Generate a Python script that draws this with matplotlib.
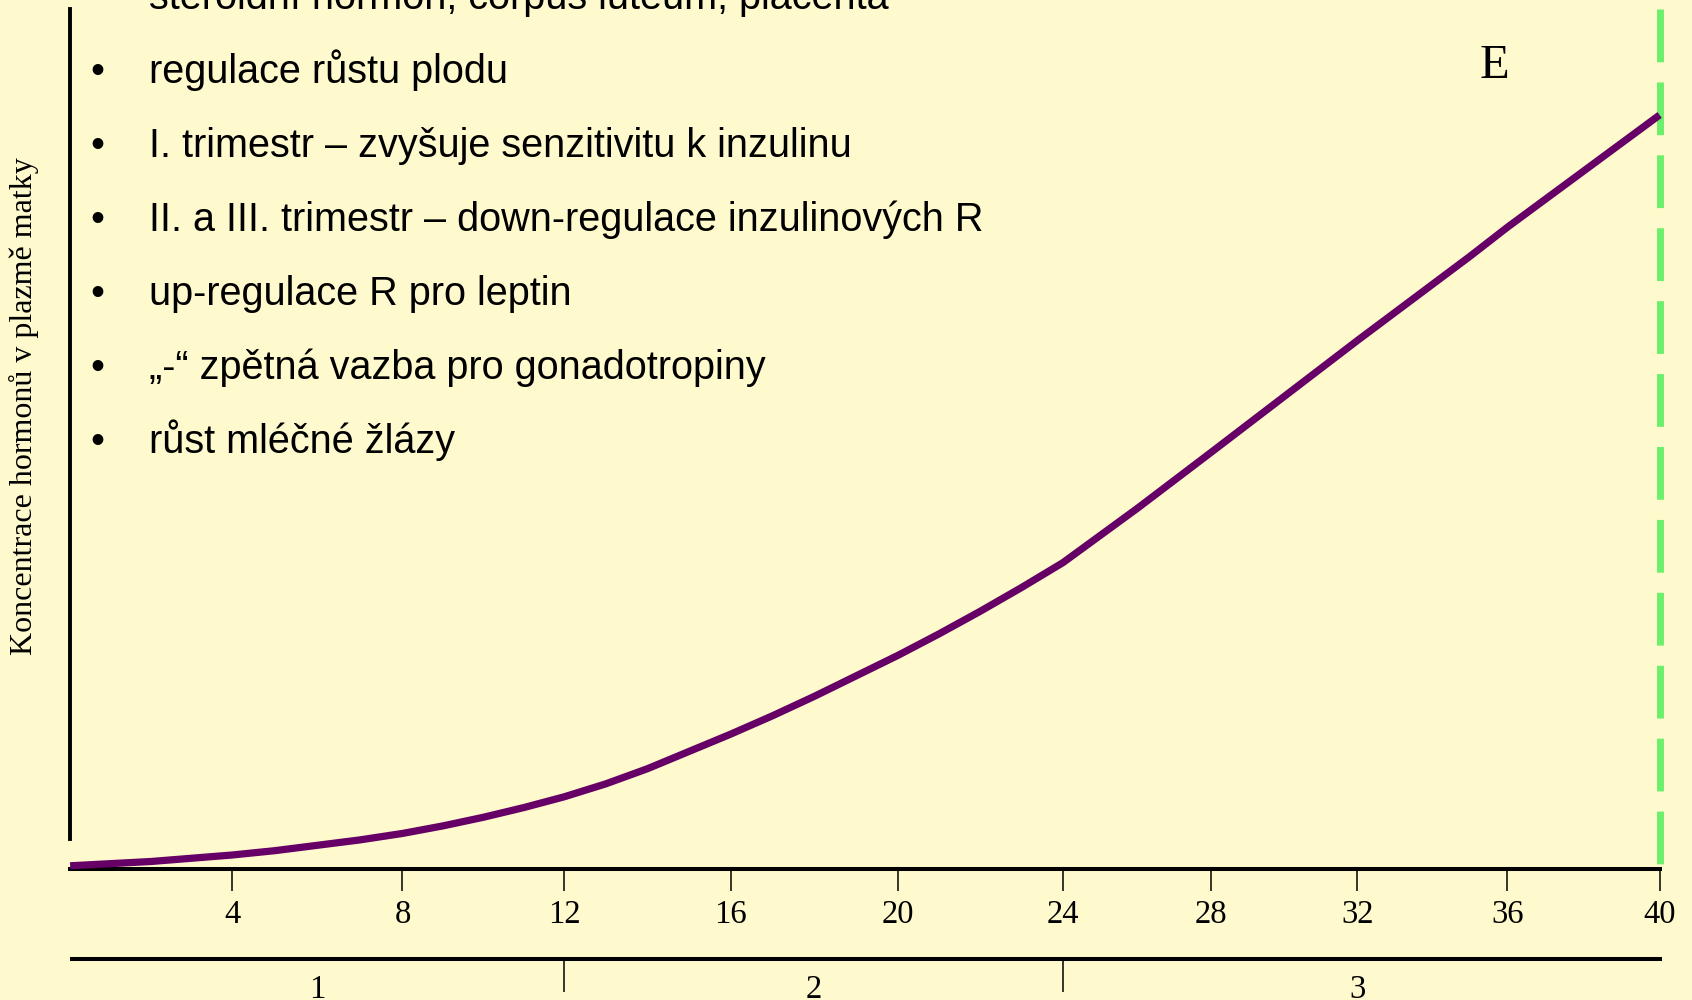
import numpy as np
import matplotlib
matplotlib.use("Agg")
import matplotlib.pyplot as plt

# week -> horizontal position on the slide (ticks are not evenly spaced)
tick_weeks = [0, 4, 8, 12, 16, 20, 24, 28, 32, 36, 40]
tick_pos = [65, 215, 373, 523, 677, 832, 985, 1122, 1258, 1397, 1538]

# hormone concentration curve (arbitrary units)
weeks = list(range(0, 41))
conc = [3, 5, 7, 10, 13, 17, 22, 27, 33, 40, 48, 57, 67, 79, 93, 109, 125, 142, 160, 179,
        198, 218, 239, 261, 284, 309, 334, 360, 386, 412, 438, 464, 490, 516, 542, 568,
        595, 621, 647, 673, 699]

trimesters = ["1", "2", "3"]
trimester_bounds = [0, 12, 24, 40]
trimester_mid = [6, 18, 32]

bullets = [
    "steroidní hormon, corpus luteum, placenta",
    "regulace růstu plodu",
    "I. trimestr – zvyšuje senzitivitu k inzulinu",
    "II. a III. trimestr – down-regulace inzulinových R",
    "up-regulace R pro leptin",
    "„-“ zpětná vazba pro gonadotropiny",
    "růst mléčné žlázy",
]
ylabel = "Koncentrace hormonů v plazmě matky"
curve_label = "E"

W, H = 1692, 1000
bg = "#fffacd"
serif = "Liberation Serif"
sans = "Liberation Sans"


def fwd(w):
    w = np.asarray(w, float)
    p = np.interp(w, tick_weeks, tick_pos)
    lo = (tick_pos[1] - tick_pos[0]) / 4.0
    hi = (tick_pos[-1] - tick_pos[-2]) / 4.0
    p = np.where(w < 0, tick_pos[0] + w * lo, p)
    p = np.where(w > 40, tick_pos[-1] + (w - 40) * hi, p)
    return p


def inv(p):
    p = np.asarray(p, float)
    w = np.interp(p, tick_pos, tick_weeks)
    lo = (tick_pos[1] - tick_pos[0]) / 4.0
    hi = (tick_pos[-1] - tick_pos[-2]) / 4.0
    w = np.where(p < tick_pos[0], (p - tick_pos[0]) / lo, w)
    w = np.where(p > tick_pos[-1], 40 + (p - tick_pos[-1]) / hi, w)
    return w


fig = plt.figure(figsize=(W / 100, H / 100), dpi=100, facecolor=bg)
ax = fig.add_axes([0, 0, 1, 1], facecolor=bg)
ax.set_xscale("function", functions=(fwd, inv))
ax.set_xlim(inv(0), inv(1568))
ax.set_ylim(-121.4, 805.6)

# axes lines
ax.spines[["top", "right"]].set_visible(False)
ax.spines["bottom"].set_position(("data", 0))
ax.spines["bottom"].set_bounds(0, 40)
ax.spines["bottom"].set_linewidth(2.9)
ax.spines["left"].set_position(("data", 0))
ax.spines["left"].set_bounds(28, 797)
ax.spines["left"].set_linewidth(2.8)
ax.set_yticks([])
ax.set_xticks(tick_weeks[1:])
ax.set_xticklabels([str(t) for t in tick_weeks[1:]], fontfamily=serif, fontsize=23.5)
ax.tick_params(axis="x", direction="out", length=16, width=1.1, pad=6, colors="black")

# curve
ax.plot(weeks, conc, color="#660066", lw=5.2, solid_capstyle="butt",
        solid_joinstyle="round", zorder=3)

# term line
ax.plot([40, 40], [797.6, 0], color="#6cf06c", lw=5, dashes=(7.6, 2.9), zorder=2)

# trimester axis
ax.hlines(-83, 0, 40.05, color="black", lw=2.9, clip_on=False)
ax.vlines(trimester_bounds[1:3], -83, -114, color="black", lw=1.1)
for lab, m in zip(trimesters, trimester_mid):
    ax.text(m, -120, lab, ha="center", va="baseline", fontfamily=serif, fontsize=23.5)

ax.text(35.65, 805 - 77 / 1.079, curve_label, ha="center", va="baseline",
        fontfamily=serif, fontsize=35)

fig.text(24 / W, 1 - 406 / H, ylabel, rotation=90, ha="center", va="center",
         fontfamily=serif, fontsize=23)

# bullet text
for i, line in enumerate(bullets):
    yb = 1 - (9 + 74 * i) / H
    fig.text(149 / W, yb, line, ha="left", va="baseline", fontfamily=sans, fontsize=28.5)
    if i > 0:
        fig.text(97 / W, yb, "•", ha="center", va="baseline", fontfamily=sans, fontsize=28.5)

fig.savefig("out.png", dpi=100, facecolor=bg)
